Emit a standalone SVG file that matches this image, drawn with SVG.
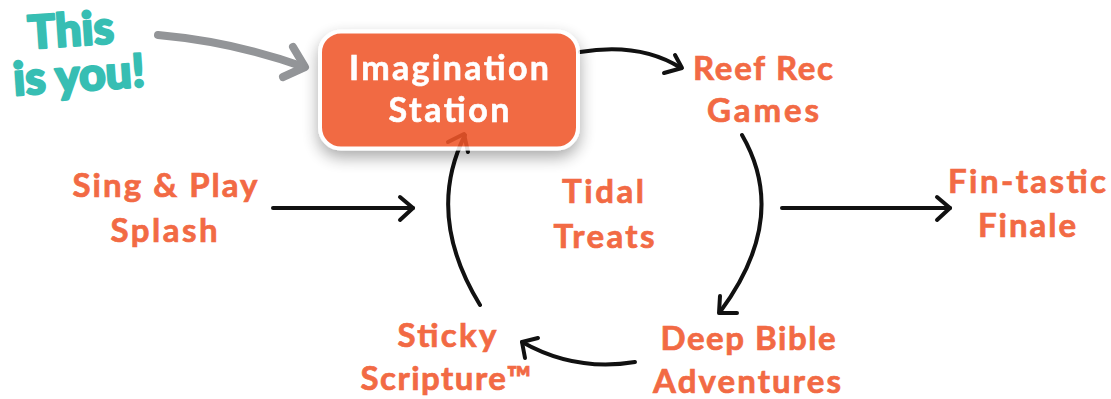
<svg xmlns="http://www.w3.org/2000/svg" width="1111" height="399" viewBox="0 0 1111 399">
<defs>
<style>
.lbl{font-family:Lato,"Open Sans","Liberation Sans",sans-serif;font-weight:700;font-size:33px;fill:#F26A44;stroke:#F26A44;stroke-width:0.7;text-anchor:middle}
.box-t{font-family:Lato,"Open Sans","Liberation Sans",sans-serif;font-weight:700;font-size:34px;fill:#FFFFFF;stroke:#FFFFFF;stroke-width:0.6;text-anchor:middle}
.you{font-family:Lato,"Open Sans","Liberation Sans",sans-serif;font-weight:900;font-size:46px;fill:#37BEB3;stroke:#37BEB3;stroke-width:2.2;stroke-linejoin:round;text-anchor:middle}
.con{fill:none;stroke:#111111;stroke-width:4;stroke-linecap:round;stroke-linejoin:round}
.gray{fill:none;stroke:#939598;stroke-width:8;stroke-linecap:round;stroke-linejoin:round}
</style>
<filter id="sh" x="-20%" y="-30%" width="140%" height="170%">
<feDropShadow dx="0" dy="7" stdDeviation="8" flood-color="#000" flood-opacity="0.38"/>
</filter>
</defs>
<rect width="1111" height="399" fill="#FFFFFF"/>

<g id="connectors">
<path class="con" d="M580,52 Q640,42 681,68"/>
<path class="con" d="M675,55 L682,68 L664,73"/>
<path class="con" d="M742,135 Q790,218 720,312"/>
<path class="con" d="M720,296 L719,313 L737,313"/>
<path class="con" d="M782,208 L950,208"/>
<path class="con" d="M937,197 L950,208 L937,220"/>
<path class="con" d="M273,208 L413,208"/>
<path class="con" d="M400,197 L413,208 L400,220"/>
<path class="con" d="M635,362 Q575,372 522,342"/>
<path class="con" d="M538,338 L522,342 L525,358"/>
<path class="con" d="M480,305 Q425,215 465,135"/>
<path class="con" d="M448,142 L464,134 L468,152"/>
</g>

<g id="this-is-you">
<text class="you" transform="translate(72,46) rotate(-4)" textLength="86" lengthAdjust="spacingAndGlyphs">This</text>
<text class="you" transform="translate(80,91) rotate(-4)" textLength="132" lengthAdjust="spacingAndGlyphs">is you!</text>
<path class="gray" d="M158,35 Q235,42 304,67"/>
<path class="gray" d="M293,47 L305,67 L283,77"/>
</g>

<g id="imagination-station" opacity="0.88">
<rect x="320" y="31.5" width="258" height="117" rx="21" fill="#F0562C" stroke="#FFFFFF" stroke-width="4" filter="url(#sh)"/>
<text class="box-t" x="449" y="80" textLength="200" lengthAdjust="spacing">Imagination</text>
<text class="box-t" x="449" y="122" textLength="121" lengthAdjust="spacing">Station</text>
</g>

<g id="reef-rec-games">
<text class="lbl" x="763" y="80" textLength="140" lengthAdjust="spacing">Reef Rec</text>
<text class="lbl" x="763" y="122" textLength="112" lengthAdjust="spacing">Games</text>
</g>
<g id="sing-play-splash">
<text class="lbl" x="165" y="197" textLength="185" lengthAdjust="spacing">Sing &amp; Play</text>
<text class="lbl" x="164" y="242" textLength="107" lengthAdjust="spacing">Splash</text>
</g>
<g id="tidal-treats">
<text class="lbl" x="603" y="203" textLength="82" lengthAdjust="spacing">Tidal</text>
<text class="lbl" x="604" y="248" textLength="101" lengthAdjust="spacing">Treats</text>
</g>
<g id="fin-tastic-finale">
<text class="lbl" x="1027" y="193" textLength="158" lengthAdjust="spacing">Fin-tastic</text>
<text class="lbl" x="1027" y="237" textLength="98" lengthAdjust="spacing">Finale</text>
</g>
<g id="deep-bible-adventures">
<text class="lbl" x="748" y="350" textLength="175" lengthAdjust="spacing">Deep Bible</text>
<text class="lbl" x="747" y="393" textLength="188" lengthAdjust="spacing">Adventures</text>
</g>
<g id="sticky-scripture">
<text class="lbl" x="447" y="347" textLength="99" lengthAdjust="spacing">Sticky</text>
<text class="lbl" x="446" y="390" textLength="171" lengthAdjust="spacing">Scripture™</text>
</g>
</svg>
